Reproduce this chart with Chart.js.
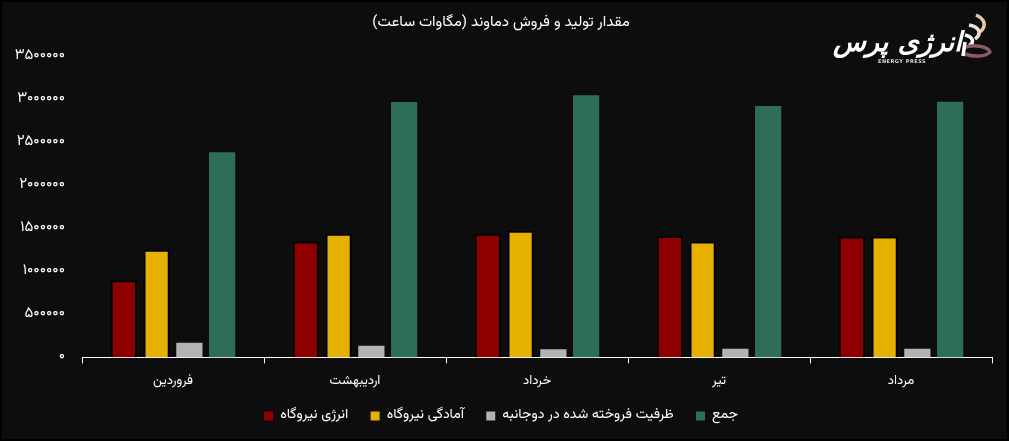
<!DOCTYPE html>
<html lang="fa">
<head>
<meta charset="utf-8">
<title>مقدار تولید و فروش دماوند</title>
<script src="https://cdn.jsdelivr.net/npm/chart.js@4.4.1/dist/chart.umd.min.js"></script>
<style>
  html, body { margin: 0; padding: 0; background: #0d0d0d; }
  #wrap { position: relative; width: 1009px; height: 441px; box-sizing: border-box; border: 2px solid #000; }
  .logo-fa { position: absolute; left: 831px; top: 24px; width: 118px; text-align: center; color: #fff; font: italic bold 27px "DejaVu Sans", sans-serif; letter-spacing: -1px; white-space: nowrap; }
  .logo-en { position: absolute; left: 876px; top: 56px; color: #ddd; font: bold 5px "DejaVu Sans", sans-serif; letter-spacing: 0.5px; white-space: nowrap; }
  .logo-icon { position: absolute; left: 956px; top: 10px; }
</style>
</head>
<body>
<div id="wrap">
  <canvas id="myChart" width="1005" height="437"></canvas>
  <span class="logo-fa">انرژی پرس</span>
  <span class="logo-en">ENERGY PRESS</span>
  <svg class="logo-icon" width="36" height="50" viewBox="0 0 36 50">
    <path d="M18 3 C27 7 29 14 22 20" stroke="#e8c9a8" stroke-width="3.5" fill="none"/>
    <path d="M11 13 C22 15 24 22 17 27" stroke="#f0e0d0" stroke-width="3.5" fill="none"/>
    <path d="M7 23 C15 25 17 30 11 34" stroke="#fff" stroke-width="3.5" fill="none"/>
    <path d="M5 36 C15 32 30 34 32 40 C28 45 15 45 7 42" stroke="#8a5a66" stroke-width="3.5" fill="none"/>
    <path d="M7 30 L5 44" stroke="#fff" stroke-width="3.5"/>
  </svg>
</div>
<script>
// داده‌ها
var categories = ["فروردین", "اردیبهشت", "خرداد", "تیر", "مرداد"];
var seriesNames = ["انرژی نیروگاه", "آمادگی نیروگاه", "ظرفیت فروخته شده در دوجانبه", "جمع"];
var energy = [900000, 1350000, 1440000, 1415000, 1410000];
var readiness = [1255000, 1440000, 1475000, 1350000, 1410000];
var bilateral = [170000, 135000, 95000, 100000, 100000];
var total = [2390000, 2975000, 3055000, 2930000, 2980000];
var yTicks = [0, 500000, 1000000, 1500000, 2000000, 2500000, 3000000, 3500000];

var colors = ["#8e0000", "#e6b000", "#b3b3b3", "#2e6e58"];
var fontFamily = "Vazirmatn, 'Noto Sans Arabic', 'DejaVu Sans', sans-serif";

function toPersian(n) {
  return String(n).replace(/\d/g, function (d) {
    return "۰۱۲۳۴۵۶۷۸۹"[d];
  });
}

var values = [energy, readiness, bilateral, total];
var datasets = seriesNames.map(function (name, i) {
  return {
    label: name,
    data: values[i],
    backgroundColor: colors[i],
    borderColor: "#000",
    borderWidth: i < 2 ? 2 : 0,
    categoryPercentage: 0.72,
    barPercentage: 0.8,
  };
});

var ctx = document.getElementById("myChart").getContext("2d");
new Chart(ctx, {
  type: "bar",
  data: { labels: categories, datasets: datasets },
  options: {
    responsive: false,
    animation: false,
    layout: { padding: { left: 8, right: 15, top: 4, bottom: 6 } },
    plugins: {
      title: {
        display: true,
        text: "مقدار تولید و فروش دماوند (مگاوات ساعت)",
        color: "#fff",
        font: { family: fontFamily, size: 15, weight: "normal" },
        padding: { top: 9, bottom: 24 },
      },
      legend: {
        position: "bottom",
        labels: {
          color: "#fff",
          boxWidth: 9,
          boxHeight: 9,
          padding: 8,
          font: { family: fontFamily, size: 14 },
          generateLabels: function (chart) {
            var items = Chart.defaults.plugins.legend.labels.generateLabels(chart);
            // wider gap between items (vertical padding has to stay small)
            items.forEach(function (it, i) {
              it.lineWidth = 0;
              if (i < items.length - 1) it.text = it.text + "\u2003";
            });
            return items;
          },
        },
      },
      tooltip: { enabled: false },
    },
    scales: {
      x: {
        grid: { display: true, drawOnChartArea: false, color: "#fff", tickLength: 6, offset: true },
        border: { color: "#fff", width: 1 },
        ticks: { color: "#fff", font: { family: fontFamily, size: 13 }, padding: 11 },
      },
      y: {
        min: 0,
        max: 3500000,
        afterBuildTicks: function (axis) {
          axis.ticks = yTicks.map(function (v) { return { value: v }; });
        },
        afterFit: function (s) { s.width = 72; },
        grid: { display: false },
        border: { display: false },
        ticks: {
          color: "#fff",
          padding: 9,
          font: { family: fontFamily, size: 15 },
          callback: function (v) { return toPersian(v); },
        },
      },
    },
  },
});
</script>
</body>
</html>
